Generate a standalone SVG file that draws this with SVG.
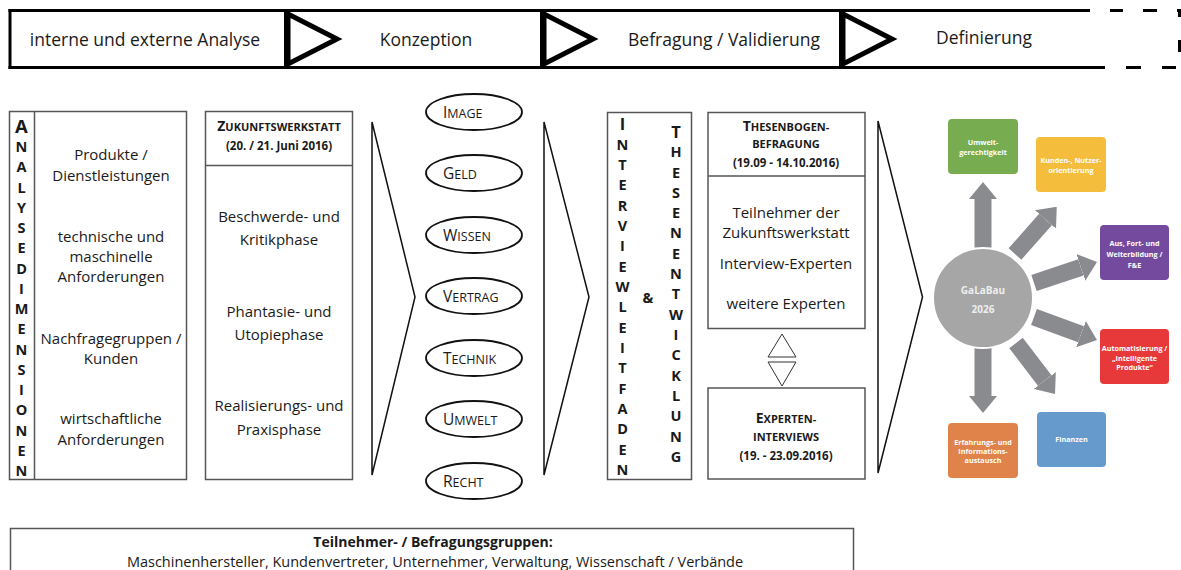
<svg xmlns="http://www.w3.org/2000/svg" width="1181" height="570" viewBox="0 0 1181 570">
<defs>
<style>
text{font-family:"Open Sans","Liberation Sans",sans-serif;fill:#1a1a1a}
.t{font-size:15px;text-anchor:middle}
.bar-t{font-size:17.5px;text-anchor:middle}
.hd{font-size:11px;font-weight:bold;text-anchor:middle}
.dt{font-size:11.5px;font-weight:bold;text-anchor:middle}
.box{fill:#fff;stroke:#555;stroke-width:1.5}
.sep{stroke:#555;stroke-width:1.5}
.col{font-size:14.5px;font-weight:bold;text-anchor:middle}
.big{font-size:18.5px}
.big2{font-size:16.5px}
.ell{fill:#fff;stroke:#111;stroke-width:1.8}
.el{font-size:12.5px}
.el .c{font-size:15.5px}
.chev{fill:none;stroke:#111;stroke-width:1.5;stroke-linejoin:miter}
.arr{stroke:#8a8b8e;stroke-width:17;marker-end:url(#ah)}
.lbl{font-size:7.2px;font-weight:bold;fill:#fff;text-anchor:middle}
.bar{stroke:#000;stroke-width:3;fill:none}
.div{stroke:#000;stroke-width:2}
.tri{fill:none;stroke:#000;stroke-width:5;stroke-linejoin:miter}
.tri2{fill:#fff;stroke:#333;stroke-width:1}
</style>
<marker id="ah" markerUnits="userSpaceOnUse" markerWidth="17" markerHeight="28" refX="0" refY="14" orient="auto" viewBox="0 0 17 28"><path d="M0,0 L17,14 L0,28 Z" fill="#8a8b8e"/></marker>
<path id="ptri" d="M3,3 L52,28 L3,53 Z"/>
</defs>
<rect width="1181" height="570" fill="#fff"/>

<g id="phase-bar">
<line class="bar" x1="8.5" y1="10.5" x2="1090" y2="10.5"/>
<line class="bar" x1="8.5" y1="67.5" x2="1105" y2="67.5"/>
<line class="bar" x1="10" y1="9" x2="10" y2="69"/>
<line class="div" x1="285" y1="11" x2="285" y2="67"/>
<line class="div" x1="541" y1="11" x2="541" y2="67"/>
<line class="div" x1="840" y1="11" x2="840" y2="67"/>
<use href="#ptri" class="tri" x="285" y="11"/>
<use href="#ptri" class="tri" x="541" y="11"/>
<use href="#ptri" class="tri" x="840" y="11"/>
<line class="bar" x1="1110" y1="10.5" x2="1123" y2="10.5"/>
<line class="bar" x1="1143" y1="10.5" x2="1157" y2="10.5"/>
<line class="bar" x1="1177" y1="10.5" x2="1181" y2="10.5"/>
<line class="bar" x1="1179.5" y1="9" x2="1179.5" y2="17"/>
<line class="bar" x1="1179.5" y1="40" x2="1179.5" y2="52"/>
<line class="bar" x1="1126" y1="67.5" x2="1141" y2="67.5"/>
<line class="bar" x1="1162" y1="67.5" x2="1176" y2="67.5"/>
<text class="bar-t" x="145" y="46">interne und externe Analyse</text>
<text class="bar-t" x="426" y="46">Konzeption</text>
<text class="bar-t" x="724" y="46">Befragung / Validierung</text>
<text class="bar-t" x="984" y="44">Definierung</text>
</g>

<g id="connectors">
<polygon class="chev" points="372,122 415,297 372,475"/>
<polygon class="chev" points="544,122 589,297 544,475"/>
<polygon class="chev" points="878,121 922.5,297 878,473"/>
<polygon class="tri2" points="782,334 796,357 768,357"/>
<polygon class="tri2" points="768,362 796,362 782,386"/>
<line class="arr" x1="983" y1="249" x2="983" y2="199"/>
<line class="arr" x1="983" y1="346" x2="983" y2="396"/>
<line class="arr" x1="1015" y1="254" x2="1045.5" y2="219.5"/>
<line class="arr" x1="1034" y1="283" x2="1080.9" y2="267.4"/>
<line class="arr" x1="1034" y1="317" x2="1081" y2="334.2"/>
<line class="arr" x1="1016" y1="343" x2="1044.7" y2="380.5"/>
</g>

<g id="analysedimensionen">
<rect class="box" x="9.5" y="111.5" width="177" height="368"/>
<line class="sep" x1="34.5" y1="111.5" x2="34.5" y2="479.5"/>
<text class="col"><tspan x="21.5" y="133.3" class="big">A</tspan><tspan x="21.5" y="152">N</tspan><tspan x="21.5" y="172.3">A</tspan><tspan x="21.5" y="192.5">L</tspan><tspan x="21.5" y="212.8">Y</tspan><tspan x="21.5" y="233">S</tspan><tspan x="21.5" y="253.3">E</tspan><tspan x="21.5" y="273.5">D</tspan><tspan x="21.5" y="293.8">I</tspan><tspan x="21.5" y="314">M</tspan><tspan x="21.5" y="334.3">E</tspan><tspan x="21.5" y="354.5">N</tspan><tspan x="21.5" y="374.8">S</tspan><tspan x="21.5" y="395">I</tspan><tspan x="21.5" y="415.3">O</tspan><tspan x="21.5" y="435.5">N</tspan><tspan x="21.5" y="455.8">E</tspan><tspan x="21.5" y="476">N</tspan></text>
<text class="t"><tspan x="111" y="159.5">Produkte /</tspan><tspan x="111" y="180.5">Dienstleistungen</tspan></text>
<text class="t"><tspan x="111" y="241.5">technische und</tspan><tspan x="111" y="261.5">maschinelle</tspan><tspan x="111" y="281.5">Anforderungen</tspan></text>
<text class="t"><tspan x="111" y="343.5">Nachfragegruppen /</tspan><tspan x="111" y="363.5">Kunden</tspan></text>
<text class="t"><tspan x="111" y="423.5">wirtschaftliche</tspan><tspan x="111" y="444.5">Anforderungen</tspan></text>
</g>

<g id="zukunftswerkstatt">
<rect class="box" x="205.5" y="111.5" width="147" height="368"/>
<line class="sep" x1="205.5" y1="165.5" x2="352.5" y2="165.5"/>
<text class="hd" x="279" y="130.5"><tspan font-size="14">Z</tspan>UKUNFTSWERKSTATT</text>
<text class="dt" x="279" y="150">(20. / 21. Juni 2016)</text>
<text class="t"><tspan x="279" y="221.5">Beschwerde- und</tspan><tspan x="279" y="244.5">Kritikphase</tspan></text>
<text class="t"><tspan x="279" y="316.5">Phantasie- und</tspan><tspan x="279" y="339.5">Utopiephase</tspan></text>
<text class="t"><tspan x="279" y="410.5">Realisierungs- und</tspan><tspan x="279" y="434.5">Praxisphase</tspan></text>
</g>

<g id="ellipse-image"><ellipse class="ell" cx="474" cy="112" rx="48" ry="18"/><text class="el" x="443" y="117.5"><tspan class="c">I</tspan>MAGE</text></g>
<g id="ellipse-geld"><ellipse class="ell" cx="474" cy="173" rx="48" ry="18"/><text class="el" x="443" y="178.5"><tspan class="c">G</tspan>ELD</text></g>
<g id="ellipse-wissen"><ellipse class="ell" cx="474" cy="235" rx="48" ry="18"/><text class="el" x="443" y="240.5"><tspan class="c">W</tspan>ISSEN</text></g>
<g id="ellipse-vertrag"><ellipse class="ell" cx="474" cy="296" rx="48" ry="18"/><text class="el" x="443" y="301.5"><tspan class="c">V</tspan>ERTRAG</text></g>
<g id="ellipse-technik"><ellipse class="ell" cx="474" cy="358" rx="48" ry="18"/><text class="el" x="443" y="363.5"><tspan class="c">T</tspan>ECHNIK</text></g>
<g id="ellipse-umwelt"><ellipse class="ell" cx="474" cy="419" rx="48" ry="18"/><text class="el" x="443" y="424.5"><tspan class="c">U</tspan>MWELT</text></g>
<g id="ellipse-recht"><ellipse class="ell" cx="474" cy="481" rx="48" ry="18"/><text class="el" x="443" y="486.5"><tspan class="c">R</tspan>ECHT</text></g>

<g id="interviewleitfaden">
<rect class="box" x="607.5" y="112.5" width="84" height="367"/>
<text class="col"><tspan x="622.5" y="130" class="big2">I</tspan><tspan x="622.5" y="149.5">N</tspan><tspan x="622.5" y="169.8">T</tspan><tspan x="622.5" y="190.1">E</tspan><tspan x="622.5" y="210.5">R</tspan><tspan x="622.5" y="230.8">V</tspan><tspan x="622.5" y="251.2">I</tspan><tspan x="622.5" y="271.5">E</tspan><tspan x="622.5" y="291.9">W</tspan><tspan x="622.5" y="312.2">L</tspan><tspan x="622.5" y="332.6">E</tspan><tspan x="622.5" y="352.9">I</tspan><tspan x="622.5" y="373.3">T</tspan><tspan x="622.5" y="393.6">F</tspan><tspan x="622.5" y="414">A</tspan><tspan x="622.5" y="434.3">D</tspan><tspan x="622.5" y="454.7">E</tspan><tspan x="622.5" y="475">N</tspan></text>
<text class="col" x="648" y="302.5" font-size="15">&amp;</text>
<text class="col"><tspan x="676" y="137.7" class="big2">T</tspan><tspan x="676" y="157.1">H</tspan><tspan x="676" y="177.5">E</tspan><tspan x="676" y="197.8">S</tspan><tspan x="676" y="218.1">E</tspan><tspan x="676" y="238.4">N</tspan><tspan x="676" y="258.8">E</tspan><tspan x="676" y="279.1">N</tspan><tspan x="676" y="299.4">T</tspan><tspan x="676" y="319.8">W</tspan><tspan x="676" y="340.1">I</tspan><tspan x="676" y="360.4">C</tspan><tspan x="676" y="380.8">K</tspan><tspan x="676" y="401.1">L</tspan><tspan x="676" y="421.4">U</tspan><tspan x="676" y="441.7">N</tspan><tspan x="676" y="462.1">G</tspan></text>
</g>

<g id="thesenbogenbefragung">
<rect class="box" x="708" y="112.5" width="157" height="216"/>
<line class="sep" x1="708" y1="176" x2="865" y2="176"/>
<text class="hd" x="786" y="131"><tspan font-size="14">T</tspan>HESENBOGEN-</text>
<text class="hd" x="786" y="147.5">BEFRAGUNG</text>
<text class="dt" x="786" y="167">(19.09 - 14.10.2016)</text>
<text class="t"><tspan x="786" y="218">Teilnehmer der</tspan><tspan x="786" y="238">Zukunftswerkstatt</tspan><tspan x="786" y="269">Interview-Experten</tspan><tspan x="786" y="309">weitere Experten</tspan></text>
</g>

<g id="experteninterviews">
<rect class="box" x="708" y="388" width="157" height="91"/>
<text class="hd" x="786" y="422.5"><tspan font-size="14">E</tspan>XPERTEN-</text>
<text class="hd" x="786" y="441">INTERVIEWS</text>
<text class="dt" x="786" y="459.5">(19. - 23.09.2016)</text>
</g>

<g id="galabau-2026">
<circle cx="983" cy="298" r="50" fill="#a6a6a6" stroke="#fff" stroke-width="2"/>
<text x="983" y="293.5" font-size="10" font-weight="bold" text-anchor="middle" style="fill:#eeeeee">GaLaBau</text>
<text x="983" y="312.5" font-size="10" font-weight="bold" text-anchor="middle" style="fill:#eeeeee">2026</text>
</g>
<g id="umweltgerechtigkeit"><rect x="948" y="119" width="70" height="55" rx="4" fill="#77ac50"/><text class="lbl"><tspan x="983" y="144.5">Umwelt-</tspan><tspan x="983" y="154.5">gerechtigkeit</tspan></text></g>
<g id="kundenorientierung"><rect x="1036" y="137" width="70" height="55" rx="4" fill="#f5bd3c"/><text class="lbl"><tspan x="1071" y="162.5">Kunden-, Nutzer-</tspan><tspan x="1071" y="172.5">orientierung</tspan></text></g>
<g id="weiterbildung"><rect x="1100" y="225" width="69" height="55" rx="4" fill="#744a9e"/><text class="lbl"><tspan x="1134.5" y="246">Aus, Fort- und</tspan><tspan x="1134.5" y="257">Weiterbildung /</tspan><tspan x="1134.5" y="267.5">F&amp;E</tspan></text></g>
<g id="automatisierung"><rect x="1100" y="329" width="69" height="55" rx="4" fill="#e8393a"/><text class="lbl"><tspan x="1134.5" y="351">Automatisierung /</tspan><tspan x="1134.5" y="360.5">„Intelligente</tspan><tspan x="1134.5" y="370">Produkte“</tspan></text></g>
<g id="finanzen"><rect x="1037" y="412" width="69" height="55" rx="4" fill="#6699cc"/><text class="lbl" x="1071.5" y="442">Finanzen</text></g>
<g id="erfahrungsaustausch"><rect x="948" y="423" width="70" height="55" rx="4" fill="#e0834a"/><text class="lbl"><tspan x="983" y="444.5">Erfahrungs- und</tspan><tspan x="983" y="453.5">Informations-</tspan><tspan x="983" y="462.5">austausch</tspan></text></g>

<g id="teilnehmergruppen">
<rect class="box" x="10.5" y="528.5" width="843" height="50"/>
<text x="433" y="547" font-size="14" font-weight="bold" text-anchor="middle">Teilnehmer- / Befragungsgruppen:</text>
<text x="435" y="566.5" font-size="14.5" text-anchor="middle">Maschinenhersteller, Kundenvertreter, Unternehmer, Verwaltung, Wissenschaft / Verbände</text>
</g>
</svg>
